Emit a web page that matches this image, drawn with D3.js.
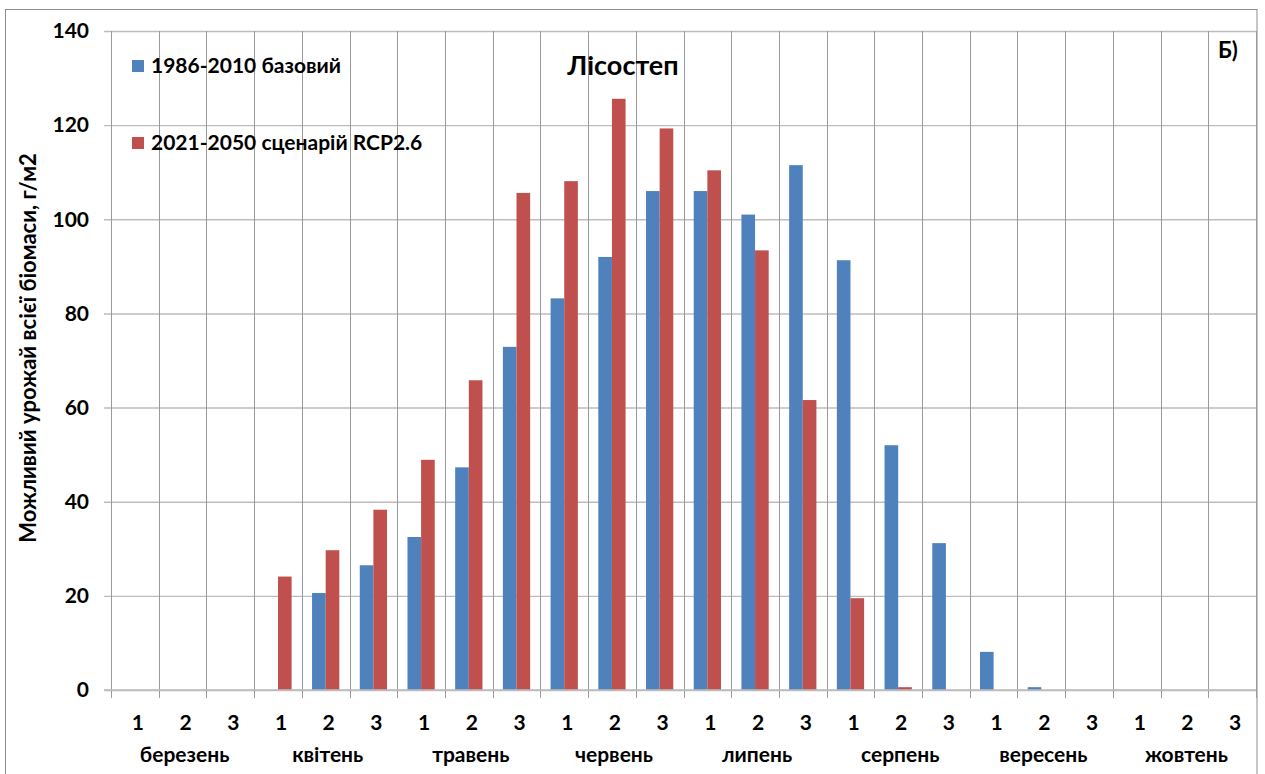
<!DOCTYPE html>
<html>
<head>
<meta charset="utf-8">
<script src="https://cdn.jsdelivr.net/npm/d3@7"></script>
<style>
  html, body { margin: 0; padding: 0; background: #fff; }
  svg { display: block; }
  text { font-family: Lato, "Noto Sans", sans-serif; font-weight: bold; fill: #000; }
</style>
</head>
<body>
<svg id="chart" width="1265" height="774"></svg>
<script>
// Dekads of each month (1st, 2nd, 3rd ten-day period)
const dekads = ["1", "2", "3"];
const months = ["березень", "квітень", "травень", "червень", "липень", "серпень", "вересень", "жовтень"];

// Potential yield of total biomass, g/m2, per dekad
const baseline = [0, 0, 0, 0, 20.6, 26.5, 32.5, 47.3, 72.9, 83.2, 92.0, 106.0,
                  106.0, 101.0, 111.5, 91.3, 52.0, 31.2, 8.1, 0.6, 0, 0, 0, 0];
const rcp26 = [0, 0, 0, 24.1, 29.7, 38.3, 48.9, 65.8, 105.6, 108.1, 125.6, 119.3,
               110.4, 93.4, 61.6, 19.5, 0.6, 0, 0, 0, 0, 0, 0, 0];

const seriesNames = ["1986-2010 базовий", "2021-2050 сценарій RCP2.6"];
const seriesColors = ["#4F81BD", "#C0504D"];
const yTicks = [0, 20, 40, 60, 80, 100, 120, 140];

const svg = d3.select("#chart");

// chart frame
svg.append("rect")
  .attr("x", 5.5).attr("y", 9.5).attr("width", 1251.5).attr("height", 800)
  .attr("fill", "none").attr("stroke", "#8c8c8c").attr("stroke-width", 1);

const plot = { left: 111, right: 1256, top: 31, bottom: 690 };

const categories = d3.range(months.length * dekads.length);
const x = d3.scaleBand().domain(categories).range([plot.left, plot.right]).padding(0);
const y = d3.scaleLinear().domain([0, 140]).range([plot.bottom, plot.top]);

// horizontal gridlines with tick marks on the value axis
const yAxis = d3.axisLeft(y).tickValues(yTicks).tickSize(-(plot.right - plot.left)).tickPadding(22).tickSizeOuter(0);
const gy = svg.append("g").attr("transform", `translate(${plot.left},0)`).call(yAxis);
gy.select(".domain").attr("stroke", "#b0b0b0");
gy.selectAll(".tick line").attr("stroke", "#bdbdbd").attr("stroke-width", 1.4).attr("x1", -7);
gy.selectAll(".tick text").attr("font-size", 21).attr("font-family", "Lato, 'Noto Sans', sans-serif").attr("font-weight", "bold").attr("fill", "#000");

// vertical separators between dekads, running below the zero line as ticks
const sep = d3.range(categories.length + 1).map(i => i === categories.length ? plot.right : x(i));
svg.append("g").selectAll("line").data(sep).join("line")
  .attr("x1", d => Math.round(d) + 0.5).attr("x2", d => Math.round(d) + 0.5)
  .attr("y1", plot.top).attr("y2", plot.bottom + 8)
  .attr("stroke", "#9a9a9a").attr("stroke-width", 1);

// bars: two per dekad, Excel-style 150% gap width
const bw = x.bandwidth() / 3.5;
const bars = svg.append("g");
[baseline, rcp26].forEach((vals, s) => {
  bars.append("g").selectAll("rect").data(vals).join("rect")
    .attr("x", (d, i) => x(i) + x.bandwidth() / 2 - bw + s * bw)
    .attr("width", bw)
    .attr("y", d => y(d))
    .attr("height", d => y(0) - y(d))
    .attr("fill", seriesColors[s]);
});

// zero line
svg.append("line").attr("x1", plot.left - 7).attr("x2", plot.right)
  .attr("y1", y(0)).attr("y2", y(0)).attr("stroke", "#bdbdbd").attr("stroke-width", 1.6);

// dekad numbers
svg.append("g").selectAll("text").data(categories).join("text")
  .attr("x", i => x(i) + x.bandwidth() / 2 + 3)
  .attr("y", 730)
  .attr("text-anchor", "middle")
  .attr("font-size", 21)
  .text(i => dekads[i % 3]);

// month names centred under their middle dekad
svg.append("g").selectAll("text").data(months).join("text")
  .attr("x", (m, j) => x(j * 3 + 1) + x.bandwidth() / 2 + 2)
  .attr("y", 762)
  .attr("text-anchor", "middle")
  .attr("font-size", 21)
  .text(m => m);

// value axis title
svg.append("text")
  .attr("transform", "translate(36,348) rotate(-90)")
  .attr("text-anchor", "middle")
  .attr("font-size", 22)
  .text("Можливий урожай всієї біомаси, г/м2");

// chart title and panel letter
svg.append("text").attr("x", 623).attr("y", 75).attr("text-anchor", "middle")
  .attr("font-size", 27).text("Лісостеп");
svg.append("text").attr("x", 1218).attr("y", 58).attr("font-size", 22).text("Б)");

// legend
const legend = svg.append("g");
seriesNames.forEach((name, s) => {
  const ly = 66 + s * 77;
  legend.append("rect").attr("x", 132).attr("y", ly - 6).attr("width", 12).attr("height", 12)
    .attr("fill", seriesColors[s]);
  legend.append("text").attr("x", 151).attr("y", ly + 7).attr("font-size", 21).text(name);
});
</script>
</body>
</html>
